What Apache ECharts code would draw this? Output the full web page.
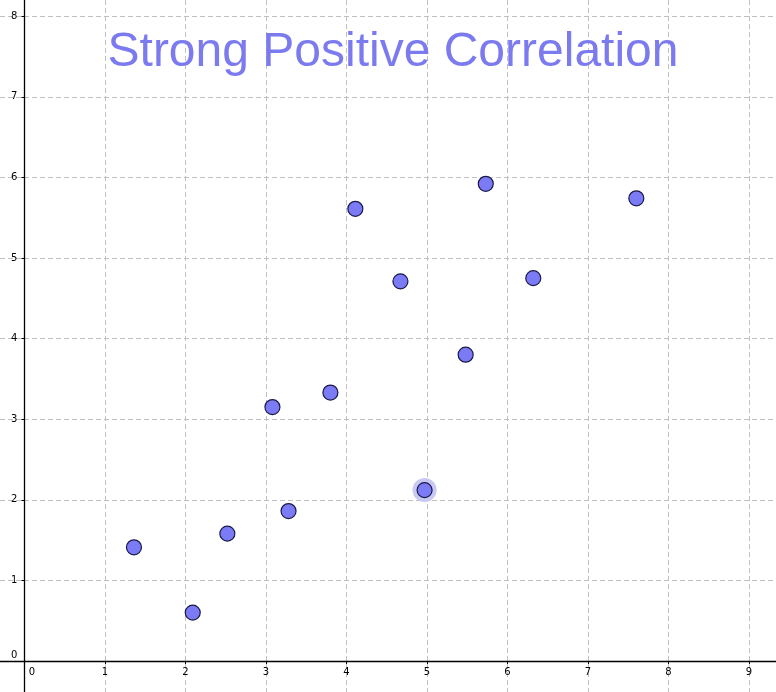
<!DOCTYPE html>
<html>
<head>
<meta charset="utf-8">
<script src="https://cdn.jsdelivr.net/npm/echarts@6/dist/echarts.min.js"></script>
<style>html,body{margin:0;padding:0;background:#fff}#c{width:776px;height:692px}</style>
</head>
<body>
<div id="c"></div>
<script>
const titleText = 'Strong Positive Correlation';
const xValues = [1.36, 2.09, 2.52, 3.08, 3.28, 3.80, 4.11, 4.67, 4.97, 5.48, 5.73, 6.32, 7.60];
const yValues = [1.41, 0.60, 1.58, 3.15, 1.86, 3.33, 5.61, 4.71, 2.12, 3.80, 5.92, 4.75, 5.74];
const highlightIndex = 8;
const xTicks = [0, 1, 2, 3, 4, 5, 6, 7, 8, 9];
const yTicks = [0, 1, 2, 3, 4, 5, 6, 7, 8];
const xRange = [-0.304, 9.335];
const yRange = [-0.385, 8.201];

const points = xValues.map((x, i) => [x, yValues[i]]);
const chart = echarts.init(document.getElementById('c'), null, {renderer: 'canvas'});
const gridLine = {show: true, lineStyle: {color: '#c0c0c0', type: [5, 3], width: 1}};
// pixel distance from grid edge to the zero line
const W = 776, H = 692;
const xZeroOffset = -W * (0 - xRange[0]) / (xRange[1] - xRange[0]);
const yZeroOffset = -H * (0 - yRange[0]) / (yRange[1] - yRange[0]);
chart.setOption({
  animation: false,
  backgroundColor: '#ffffff',
  title: {
    text: titleText,
    left: 388, top: 24, textAlign: 'center',
    textStyle: {color: '#7b7bef', fontSize: 48, fontWeight: 'normal', fontFamily: 'Liberation Sans, Arial, sans-serif'}
  },
  grid: {left: 0, right: 0, top: 0, bottom: 0, containLabel: false, outerBoundsMode: 'none'},
  xAxis: {
    type: 'value', min: xRange[0], max: xRange[1], position: 'bottom', offset: yZeroOffset,
    axisLine: {show: true, onZero: false, lineStyle: {color: '#000', width: 1.3}},
    axisTick: {show: true, length: 3, customValues: xTicks, lineStyle: {color: '#000'}},
    splitLine: gridLine,
    axisLabel: {
      customValues: xTicks, hideOverlap: false, showMinLabel: true, showMaxLabel: true,
      margin: 6, color: '#000', fontSize: 10, fontFamily: 'DejaVu Sans, sans-serif',
      formatter: v => (v === 0 ? '{z|0}' : String(v)),
      rich: {z: {padding: [0, 0, 0, 15], fontSize: 10, color: '#000', fontFamily: 'DejaVu Sans, sans-serif'}}
    }
  },
  yAxis: {
    type: 'value', min: yRange[0], max: yRange[1], position: 'left', offset: xZeroOffset,
    axisLine: {show: true, onZero: false, lineStyle: {color: '#000', width: 1.3}},
    axisTick: {show: true, length: 3, customValues: yTicks, lineStyle: {color: '#000'}},
    splitLine: gridLine,
    axisLabel: {
      customValues: yTicks, hideOverlap: false, showMinLabel: true, showMaxLabel: true,
      margin: 7, color: '#000', fontSize: 10, fontFamily: 'DejaVu Sans, sans-serif',
      formatter: v => (v === 0 ? '{z|0}' : String(v)),
      rich: {z: {padding: [0, 0, 12, 0], fontSize: 10, color: '#000', fontFamily: 'DejaVu Sans, sans-serif'}}
    }
  },
  series: [
    {
      type: 'scatter', symbolSize: 24, silent: true,
      itemStyle: {color: '#c8c8f2', opacity: 1},
      data: [points[highlightIndex]], z: 2
    },
    {
      type: 'scatter', symbolSize: 15,
      itemStyle: {color: '#7b7bf5', borderColor: '#1a1a4a', borderWidth: 1.2, opacity: 1},
      data: points, z: 3
    }
  ]
});
</script>
</body>
</html>
